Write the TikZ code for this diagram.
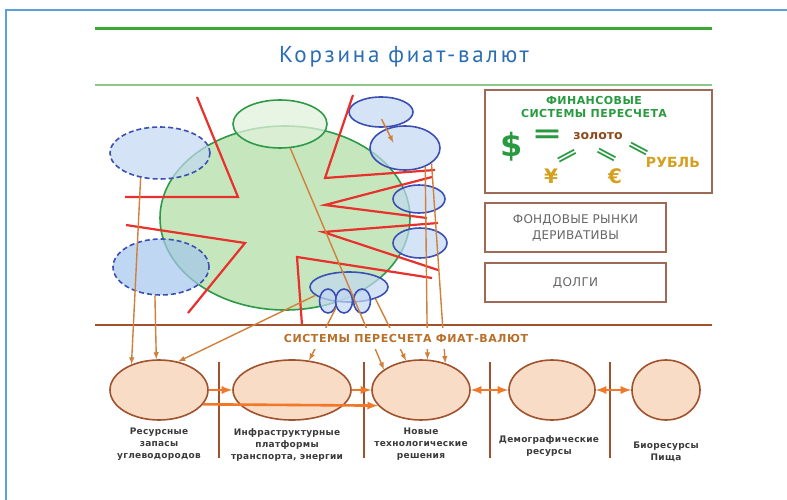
\documentclass[tikz,border=0pt]{standalone}
\usepackage{fontspec}
\setmainfont{DejaVu Sans}
\newfontfamily\titlefont[LetterSpace=12]{PT Sans}
\usetikzlibrary{shapes.geometric}

\definecolor{framebl}{HTML}{5AA0DC}
\definecolor{linegr}{HTML}{3AAA35}
\definecolor{palegr}{HTML}{8CC88A}
\definecolor{titlebl}{HTML}{2A6DB5}
\definecolor{circgr}{HTML}{2E9A48}
\definecolor{circfill}{HTML}{C6E6BE}
\definecolor{ellbl}{HTML}{3C50B4}
\definecolor{ellfill}{HTML}{C2D8F2}
\definecolor{ellfilldk}{HTML}{A4C6EC}
\definecolor{redln}{HTML}{E8302C}
\definecolor{feedor}{HTML}{D0803A}
\definecolor{flowor}{HTML}{F07828}
\definecolor{brownln}{HTML}{A0522D}
\definecolor{peach}{HTML}{F8DCC6}
\definecolor{boxbr}{HTML}{9D6A55}
\definecolor{finbr}{HTML}{8B4A1C}
\definecolor{convtx}{HTML}{B8702A}
\definecolor{goldtx}{HTML}{D4A020}
\definecolor{fingr}{HTML}{2A9A40}
\definecolor{labelgr}{HTML}{3A3A3A}
\definecolor{boxtx}{HTML}{666666}

\newcommand{\spaced}[1]{\addfontfeatures{LetterSpace=#1}}

\tikzset{
  oval/.style={ellipse, inner sep=0pt, draw=ellbl, line width=1.6pt,
    fill=ellfill, fill opacity=0.7},
  dashoval/.style={oval, dash pattern=on 5pt off 3pt},
  redline/.style={redln, line width=2.2pt},
  feed/.style={feedor, line width=1.4pt, -latex},
  flow/.style={flowor, line width=2.6pt, -latex},
  sector/.style={ellipse, inner sep=0pt, draw=brownln, line width=1.6pt,
    fill=peach, minimum height=60pt},
  divider/.style={brownln, line width=1.2pt},
  caption/.style={anchor=north, align=center, text=labelgr, inner sep=0pt,
    font=\bfseries\fontsize{9}{12}\selectfont\spaced{3}},
  boxed/.style={draw=boxbr, line width=1.4pt, align=center, text=boxtx,
    font=\fontsize{12}{16}\selectfont\spaced{2}},
  eqsign/.style={text=fingr, inner sep=0pt, font=\bfseries\fontsize{20}{22}\selectfont}
}

\begin{document}
\begin{tikzpicture}[x=1pt,y=-1pt]
  \useasboundingbox (0,0) rectangle (787,500);

  % frame and title
  \draw[framebl,line width=2.5pt] (6,505) -- (6,10) -- (795,10);
  \draw[linegr,line width=3pt] (95,29) -- (712,29);
  \draw[palegr,line width=2pt] (95,85) -- (712,85);
  \node[titlebl,font=\titlefont\fontsize{23}{26}\selectfont] (title) at (404,57) {Корзина фиат-валют};

  % basket of fiat currencies
  \node[ellipse,inner sep=0pt,draw=circgr,line width=1.6pt,fill=circfill,
    minimum width=250pt,minimum height=184pt] (basket) at (285,218) {};
  \node[ellipse,inner sep=0pt,draw=circgr,line width=1.6pt,fill=circfill!55,
    fill opacity=0.75,minimum width=94pt,minimum height=48pt] (gold) at (280,124) {};

  \node[dashoval,minimum width=100pt,minimum height=52pt] (resA) at (160,153) {};
  \node[dashoval,fill=ellfilldk,minimum width=96pt,minimum height=56pt] (resB) at (161,267) {};

  \node[oval,minimum width=64pt,minimum height=30pt] (fin1) at (381,112) {};
  \node[oval,minimum width=70pt,minimum height=44pt] (fin2) at (405,148) {};
  \node[oval,minimum width=52pt,minimum height=28pt] (fin3) at (419,199) {};
  \node[oval,minimum width=54pt,minimum height=30pt] (fin4) at (420,243) {};
  \node[oval,minimum width=78pt,minimum height=30pt] (tech) at (349,287) {};
  \foreach \i/\x in {1/328,2/344,3/362}
    \node[oval,minimum width=17pt,minimum height=24pt] (tq\i) at (\x,301) {};

  \draw[feed,shorten <=8pt,shorten >=6pt] ([xshift=-3pt]fin1.center) -- ([xshift=-9pt]fin2.center);

  % cracks
  \draw[redline] (197,97) -- (238,197) -- (125,197);
  \draw[redline] (126,225) -- (245,243) -- (188,313);
  \draw[redline] (353,95) -- (325,178) -- (435,170);
  \draw[redline] (432,177) -- (325,205) -- (427,218);
  \draw[redline] (438,223) -- (323,232) -- (438,270);
  \draw[redline] (432,278) -- (297,257) -- (302,325);

  \draw[brownln,line width=1.2pt] (95,325) -- (712,325);

  % sectors
  \node[sector,minimum width=98pt] (e1) at (159,390) {};
  \node[sector,minimum width=118pt] (e2) at (292,390) {};
  \node[sector,minimum width=98pt] (e3) at (421,390) {};
  \node[sector,minimum width=86pt] (e4) at (552,390) {};
  \node[sector,minimum width=68pt] (e5) at (666,390) {};

  \foreach \x in {219,364,490,610}
    \draw[divider] (\x,362) -- (\x,458);

  % feeds from the basket
  \draw[feed] (resA.232) -- (e1.137);
  \draw[feed] (resB.258) -- (e1.95);
  \draw[feed] (tech.194) -- (e1.56);
  \draw[feed] (tq2.220) -- (e2.60);
  \draw[feed] (gold.-67) -- (e3.151);
  \draw[feed] (tech.-24) -- (e3.117);
  \draw[feed] (fin2.-43) -- (e3.78);
  \draw[feed] (fin2.-30) -- (e3.48);

  \node[fill=white,inner sep=0pt,minimum height=21pt,text=convtx,
    font=\bfseries\fontsize{11}{13}\selectfont\spaced{5}] (conv) at (406,338) {СИСТЕМЫ ПЕРЕСЧЕТА ФИАТ-ВАЛЮТ};

  \draw[flow] (e1) -- (e2);
  \draw[flow] (e2) -- (e3);
  \draw[flow] (e1.-18) -- (e3.200);
  \draw[flow,latex-latex] (e3) -- (e4);
  \draw[flow,latex-latex] (e4) -- (e5);

  \node[caption] (l1) at (159,428) {Ресурсные\\запасы\\углеводородов};
  \node[caption] (l2) at (287,428) {Инфраструктурные\\платформы\\транспорта, энергии};
  \node[caption] (l3) at (421,428) {Новые\\технологические\\решения};
  \node[caption] (l4) at (549,435) {Демографические\\ресурсы};
  \node[caption] (l5) at (666,442) {Биоресурсы\\Пища};

  % right-hand boxes
  \node[boxed,minimum width=227pt,minimum height=103pt] (finbox) at (598.5,141.5) {};
  \node[text=fingr,align=center,font=\bfseries\fontsize{11}{13.5}\selectfont\spaced{4}] (fintitle) at (594,107)
    {ФИНАНСОВЫЕ\\СИСТЕМЫ ПЕРЕСЧЕТА};
  \node[text=fingr,font=\bfseries\fontsize{32}{34}\selectfont] (usd) at (512,147) {\$};
  \node[eqsign,font=\bfseries\fontsize{26}{28}\selectfont] (eq0) at (547,136) {\scalebox{1.4}[1]{=}};
  \node[text=finbr,inner sep=0pt,font=\bfseries\fontsize{12.5}{14}\selectfont] (au) at (598,136) {золото};
  \node[eqsign,rotate=28] (eq1) at (568,157) {\scalebox{1.5}[0.8]{=}};
  \node[eqsign,rotate=-28] (eq2) at (606,156) {\scalebox{1.5}[0.8]{=}};
  \node[eqsign,rotate=-28] (eq3) at (638,150) {\scalebox{1.5}[0.8]{=}};
  \node[text=goldtx,font=\bfseries\fontsize{20}{22}\selectfont] (yen) at (551,176) {¥};
  \node[text=goldtx,font=\bfseries\fontsize{20}{22}\selectfont] (eur) at (615,176) {€};
  \node[text=goldtx,font=\bfseries\fontsize{14}{16}\selectfont] (rub) at (673,162) {РУБЛЬ};

  \node[boxed,minimum width=181pt,minimum height=49pt] (stock) at (575.5,227.5)
    {ФОНДОВЫЕ РЫНКИ\\ДЕРИВАТИВЫ};
  \node[boxed,minimum width=181pt,minimum height=39pt] (debt) at (575.5,282.5) {ДОЛГИ};
\end{tikzpicture}
\end{document}
